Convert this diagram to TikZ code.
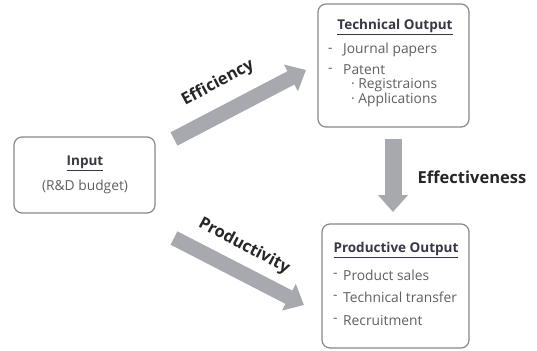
\documentclass[tikz,border=0pt]{standalone}
\usepackage{fontspec}
\setmainfont{Open Sans}
\usetikzlibrary{arrows.meta,positioning}
\definecolor{boxline}{RGB}{135,135,142}
\definecolor{flow}{RGB}{168,169,175}
\definecolor{headtxt}{RGB}{55,55,70}
\definecolor{itemtxt}{RGB}{95,95,100}

\begin{document}
\begin{tikzpicture}[x=1pt,y=-1pt,
		box/.style={draw=boxline,line width=1.2pt,rounded corners=8pt,fill=white},
		head/.style={font=\fontsize{13.5}{15}\selectfont\bfseries,text=headtxt,inner sep=0},
		item/.style={font=\fontsize{13.8}{15}\selectfont,text=itemtxt,inner sep=0,anchor=west},
		lbl/.style={font=\fontsize{16.5}{18}\selectfont\bfseries,text=black!85,inner sep=0},
		flowarrow/.style={draw=flow,line width=#1,-{Triangle[width=29pt,length=17pt]}}]
	\useasboundingbox (0,0) rectangle (537,350);
	
	% boxes
	\node[box,minimum width=141pt,minimum height=76pt] (input) at (84.5,175) {};
	\node[box,minimum width=151pt,minimum height=123pt] (tech) at (393.5,65.5) {};
	\node[box,minimum width=147pt,minimum height=124pt] (prod) at (395.5,286) {};
	
	% input
	\node[head] (input-t) at (85,163) {\underline{Input}};
	\node[item,anchor=center] (input-b) at (85,187) {(R\&D budget)};
	
	% technical output
	\node[head] (tech-t) at (395,27) {\underline{Technical Output}};
	\node[item] (tech-d1) at (328,50) {-}; \node[item] (tech-1) at (343,50) {Journal papers};
	\node[item] (tech-d2) at (328,70) {-}; \node[item] (tech-2) at (343,70) {Patent};
	\node[item] (tech-2a) at (351,85) {· Registraions};
	\node[item] (tech-2b) at (351,100) {· Applications};
	
	% productive output
	\node[head] (prod-t) at (396,250) {\underline{Productive Output}};
	\node[item] (prod-d1) at (333,275) {-}; \node[item] (prod-1) at (343,275) {Product sales};
	\node[item] (prod-d2) at (333,297) {-}; \node[item] (prod-2) at (343,297) {Technical transfer};
	\node[item] (prod-d3) at (333,320) {-}; \node[item] (prod-3) at (343,320) {Recruitment};
	
	% flows
	\coordinate (eff-s) at (174,139); \coordinate (eff-e) at (306,70);
	\coordinate (pro-s) at (174,238); \coordinate (pro-e) at (304,305);
	\coordinate (efv-s) at (393,139); \coordinate (efv-e) at (393,212);
	\draw[flowarrow=15pt] (eff-s) -- (eff-e);
	\draw[flowarrow=15pt] (pro-s) -- (pro-e);
	\draw[flowarrow=17pt] (efv-s) -- (efv-e);
	
	\node[lbl,rotate=28] (eff) at (218,83) {Efficiency};
	\node[lbl,rotate=-28] (pro) at (244,246) {Productivity};
	\node[lbl] (efv) at (472,177) {Effectiveness};
\end{tikzpicture}
\end{document}
